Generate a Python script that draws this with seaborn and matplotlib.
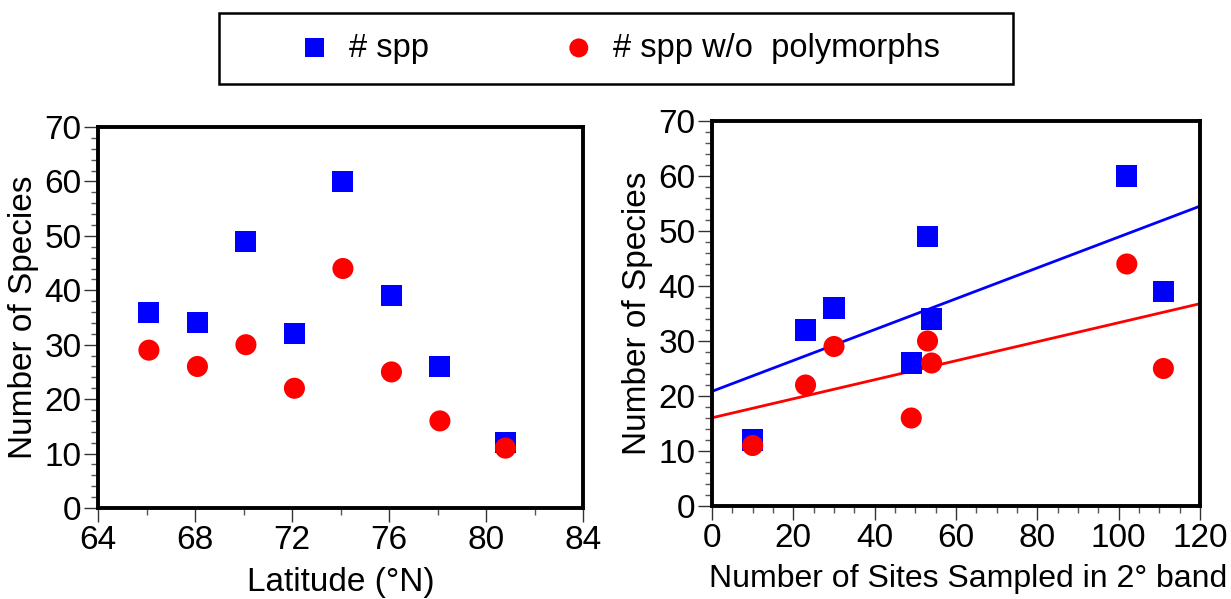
import numpy as np
import pandas as pd
import matplotlib
matplotlib.use("Agg")
import matplotlib.pyplot as plt
from matplotlib.patches import Rectangle
from matplotlib.ticker import MultipleLocator
import seaborn as sns

# data
latitude = [66.1, 68.1, 70.1, 72.1, 74.1, 76.1, 78.1, 80.8]
sites = [30, 54, 53, 23, 102, 111, 49, 10]
n_spp = [36, 34, 49, 32, 60, 39, 26, 12]
n_spp_nopoly = [29, 26, 30, 22, 44, 25, 16, 11]

df = pd.DataFrame({"lat": latitude, "sites": sites,
                   "spp": n_spp, "nopoly": n_spp_nopoly})

sns.set_style("ticks")
plt.rcParams['font.family'] = ['Liberation Sans', 'DejaVu Sans']
plt.rcParams['text.color'] = 'black'
plt.rcParams['axes.labelcolor'] = 'black'
plt.rcParams['xtick.color'] = 'black'
plt.rcParams['ytick.color'] = 'black'
FS = 24

BLUE = "#0000ff"
RED = "#ff0000"

fig = plt.figure(figsize=(12.31, 5.99), dpi=100)
axL = fig.add_axes([98/1231, 1-508/599, (583-98)/1231, (508-127)/599])
axR = fig.add_axes([712/1231, 1-506/599, (1200-712)/1231, (506-121)/599])

# left panel: species vs latitude
sns.scatterplot(data=df, x="lat", y="spp", marker="s", s=230, color=BLUE,
                edgecolor="none", ax=axL, label="# spp", zorder=3)
sns.scatterplot(data=df, x="lat", y="nopoly", marker="o", s=230, color=RED,
                edgecolor="none", ax=axL, label="# spp w/o  polymorphs", zorder=4)
axL.set_xlim(64, 84)
axL.set_ylim(0, 70)
axL.xaxis.set_major_locator(MultipleLocator(4))
axL.xaxis.set_minor_locator(MultipleLocator(2))
axL.set_xlabel("Latitude (°N)", fontsize=FS)
axL.xaxis.set_label_coords(0.5, -0.155)

# right panel: species vs sampling effort, with linear fits
axR.set_xlim(0, 120)
axR.set_ylim(0, 70)
sns.regplot(data=df, x="sites", y="spp", scatter=False, ci=None, truncate=False,
            color=BLUE, line_kws={"lw": 2}, ax=axR)
sns.regplot(data=df, x="sites", y="nopoly", scatter=False, ci=None, truncate=False,
            color=RED, line_kws={"lw": 2}, ax=axR)
sns.scatterplot(data=df, x="sites", y="spp", marker="s", s=230, color=BLUE,
                edgecolor="none", ax=axR, zorder=3)
sns.scatterplot(data=df, x="sites", y="nopoly", marker="o", s=230, color=RED,
                edgecolor="none", ax=axR, zorder=4)
axR.set_xlim(0, 120)
axR.xaxis.set_major_locator(MultipleLocator(20))
axR.xaxis.set_minor_locator(MultipleLocator(5))
axR.set_xlabel("Number of Sites Sampled in 2° band", fontsize=23)
axR.xaxis.set_label_coords(0.525, -0.15)

for ax in (axL, axR):
    ax.yaxis.set_major_locator(MultipleLocator(10))
    ax.yaxis.set_minor_locator(MultipleLocator(2))
    ax.set_ylabel("Number of Species", fontsize=FS, labelpad=4)
    for sp in ax.spines.values():
        sp.set_visible(True)
        sp.set_linewidth(2.8)
        sp.set_color("black")
    ax.tick_params(which="major", length=10, width=1, color="#333333",
                   labelsize=FS, labelcolor="black", pad=2, direction="out")
    ax.tick_params(which="minor", length=5, width=1, color="#555555",
                   direction="out")
    ax.tick_params(top=False, right=False, which="both")
    ax.set_facecolor("white")

handles, labels = axL.get_legend_handles_labels()
axL.get_legend().remove()

# legend box drawn across the top
fig.patches.append(Rectangle((219/1231, 1-84/599), (1013-219)/1231, 71/599,
                             transform=fig.transFigure, fill=False,
                             edgecolor="black", linewidth=1.8))
fig.legend(handles, labels, loc="center", bbox_to_anchor=(619/1231, 1-48/599),
           ncol=2, frameon=False, fontsize=23.5, handlelength=1.0,
           handletextpad=0.55, columnspacing=4.1, markerscale=0.9)

fig.savefig("out.png", dpi=100, facecolor="white")
